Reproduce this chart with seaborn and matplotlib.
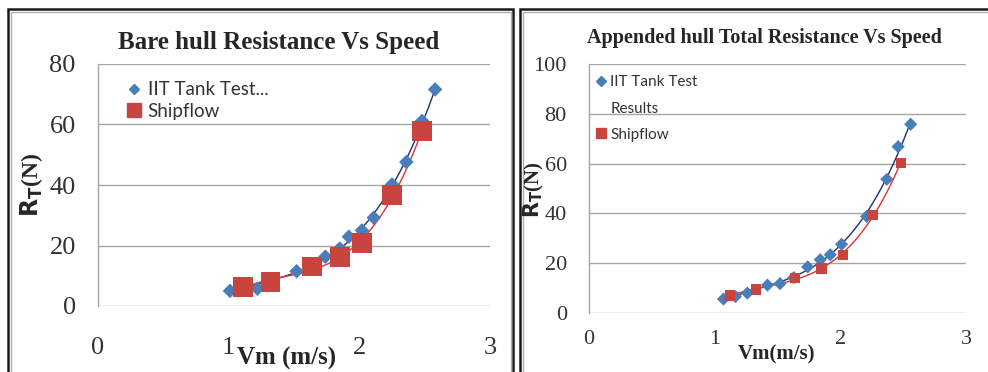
import matplotlib
matplotlib.use("Agg")
import matplotlib.pyplot as plt
from matplotlib.lines import Line2D
from matplotlib.patches import Rectangle
import seaborn as sns
import pandas as pd

# ---- data: bare hull ----
bare_tank_v = [1.01, 1.22, 1.52, 1.74, 1.85, 1.92, 2.02, 2.11, 2.25, 2.36, 2.48, 2.58]
bare_tank_r = [5.0, 5.7, 11.5, 16.3, 19.0, 22.9, 25.0, 29.2, 40.2, 47.6, 61.2, 71.6]
bare_ship_v = [1.11, 1.32, 1.64, 1.85, 2.02, 2.25, 2.48]
bare_ship_r = [6.2, 8.0, 13.0, 16.1, 20.9, 36.6, 57.9]

# ---- data: appended hull ----
app_tank_v = [1.07, 1.165, 1.26, 1.42, 1.52, 1.63, 1.74, 1.84, 1.92, 2.01, 2.21, 2.37, 2.46, 2.56]
app_tank_r = [5.6, 6.6, 8.0, 11.2, 11.8, 14.2, 18.5, 21.4, 23.4, 27.6, 38.8, 53.7, 66.8, 75.8]
app_ship_v = [1.12, 1.33, 1.64, 1.85, 2.02, 2.26, 2.48]
app_ship_r = [7.0, 9.4, 14.0, 17.9, 23.4, 39.4, 60.2]

x_ticks = [0, 1, 2, 3]
bare_y_ticks = [0, 20, 40, 60, 80]
app_y_ticks = [0, 20, 40, 60, 80, 100]

sns.set_theme(style="white")
plt.rcParams['font.family'] = ['Liberation Serif', 'DejaVu Serif']

BLUE = "#4A7EBB"
RED = "#C8453F"
BLUE_LINE = "#1F2F6B"
RED_LINE = "#E8302A"
GRID = "#A6A6A6"

W, H = 988, 372
fig = plt.figure(figsize=(W / 100, H / 100), dpi=100)


def px_axes(left, top, right, bottom):
    return fig.add_axes([left / W, 1 - bottom / H, (right - left) / W, (bottom - top) / H])


# frames
for (l, t, r, b) in [(8, 9, 513, 400), (520, 9, 1000, 400)]:
    fig.patches.append(Rectangle((l / W, 1 - b / H), (r - l) / W, (b - t) / H,
                                 transform=fig.transFigure, fill=False,
                                 edgecolor="#1a1a1a", linewidth=1.8, zorder=0))
    fig.patches.append(Rectangle(((l + 2.5) / W, 1 - (b) / H), (r - l - 5) / W, (b - t - 2.5) / H,
                                 transform=fig.transFigure, fill=False,
                                 edgecolor="#b0b0b0", linewidth=1.0, zorder=0))


def style_axes(ax, yticks, ymax, xpad, ypad, tick_fs):
    ax.set_xlim(0, 3)
    ax.set_ylim(0, ymax)
    ax.set_xticks(x_ticks)
    ax.set_yticks(yticks)
    ax.set_xticklabels([str(v) for v in x_ticks])
    ax.set_yticklabels([str(v) for v in yticks])
    ax.tick_params(axis="x", length=0, pad=xpad, labelsize=tick_fs, colors="#333333")
    ax.tick_params(axis="y", length=0, pad=ypad, labelsize=tick_fs, colors="#333333")
    for t in ax.get_xticklabels() + ax.get_yticklabels():
        t.set_fontfamily("Liberation Serif")
    ax.grid(False)
    for v in yticks:
        ax.axhline(v, color=GRID, linewidth=1.0, zorder=0)
    for s in ["top", "right", "bottom"]:
        ax.spines[s].set_visible(False)
    ax.spines["left"].set_color(GRID)
    ax.spines["left"].set_linewidth(1.0)
    ax.set_xlabel("")
    ax.set_ylabel("")
    ax.patch.set_alpha(0)


def draw(ax, tv, tr, sv, sr, dsize, ssize):
    dt = pd.DataFrame({"v": tv, "r": tr})
    ds = pd.DataFrame({"v": sv, "r": sr})
    sns.regplot(data=dt, x="v", y="r", order=3, ci=None, scatter=False, ax=ax,
                line_kws=dict(color=BLUE_LINE, linewidth=1.0, zorder=3))
    sns.regplot(data=ds, x="v", y="r", order=3, ci=None, scatter=False, ax=ax,
                line_kws=dict(color=RED_LINE, linewidth=1.0, zorder=3))
    sns.scatterplot(data=dt, x="v", y="r", marker="D", s=dsize, color=BLUE,
                    edgecolor="none", ax=ax, zorder=4)
    sns.scatterplot(data=ds, x="v", y="r", marker="s", s=ssize, color=RED,
                    edgecolor="none", ax=ax, zorder=5)


# ---- left panel ----
ax1 = px_axes(98, 64, 490, 306)
draw(ax1, bare_tank_v, bare_tank_r, bare_ship_v, bare_ship_r, 55, 200)
style_axes(ax1, bare_y_ticks, 80, 22, 16, 19)
h1 = [Line2D([], [], marker="D", linestyle="", color=BLUE, markersize=5.5),
      Line2D([], [], marker="s", linestyle="", color=RED, markersize=10)]
leg1 = ax1.legend(h1, ["IIT Tank Test...", "Shipflow"], loc="upper left",
                  bbox_to_anchor=(0.05, 0.968), frameon=False, handlelength=0.8,
                  handletextpad=0.3, labelspacing=0.25, borderpad=0,
                  prop=dict(family="Lato", size=13.5))
for t in leg1.get_texts():
    t.set_color("#333333")
fig.text(279 / W, 1 - 43 / H, "Bare hull Resistance Vs Speed", ha="center", va="center",
         fontsize=18, fontweight="bold", family="Liberation Serif")
fig.text(32 / W, 1 - 185 / H, r"$\mathbf{R_T}$(N)", ha="center", va="center", rotation=90,
         fontsize=17, fontweight="bold", family="Liberation Serif")
fig.text(287 / W, 1 - 358 / H, "Vm (m/s)", ha="center", va="center",
         fontsize=18, fontweight="bold", family="Liberation Serif")

# ---- right panel ----
ax2 = px_axes(589, 64, 966, 313)
draw(ax2, app_tank_v, app_tank_r, app_ship_v, app_ship_r, 45, 55)
style_axes(ax2, app_y_ticks, 100, 12, 16, 16)
h2 = [Line2D([], [], marker="D", linestyle="", color=BLUE, markersize=5.5),
      Line2D([], [], linestyle="", marker=None),
      Line2D([], [], marker="s", linestyle="", color=RED, markersize=7)]
leg2 = ax2.legend(h2, ["IIT Tank Test", "Results", "Shipflow"], loc="upper left",
                  bbox_to_anchor=(0.0, 0.985), frameon=False, handlelength=0.6,
                  handletextpad=0.3, labelspacing=0.8, borderpad=0,
                  prop=dict(family="Lato", size=11))
for t in leg2.get_texts():
    t.set_color("#333333")
fig.text(764 / W, 1 - 38 / H, "Appended hull Total Resistance Vs Speed", ha="center", va="center",
         fontsize=14.5, fontweight="bold", family="Liberation Serif")
fig.text(534 / W, 1 - 190 / H, r"$\mathbf{R_T}$(N)", ha="center", va="center", rotation=90,
         fontsize=15, fontweight="bold", family="Liberation Serif")
fig.text(777 / W, 1 - 354 / H, "Vm(m/s)", ha="center", va="center",
         fontsize=15, fontweight="bold", family="Liberation Serif")

fig.savefig("out.png", dpi=100, facecolor="white")
